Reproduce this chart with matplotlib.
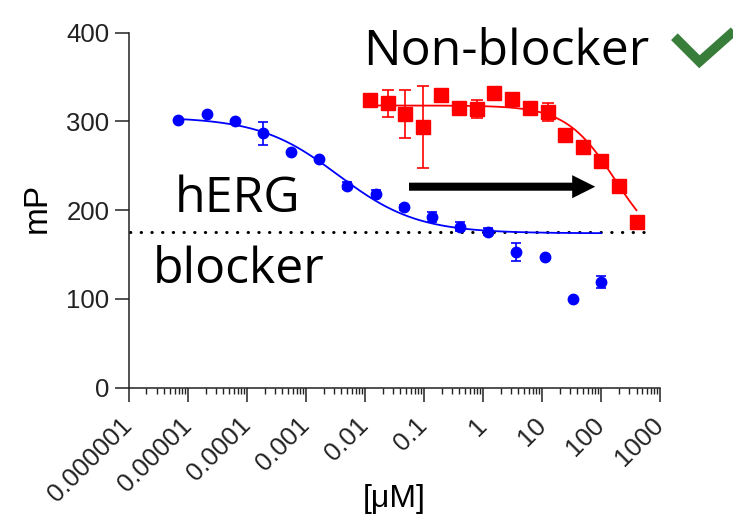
import numpy as np
import matplotlib.pyplot as plt
from matplotlib.patches import FancyArrowPatch
from matplotlib.ticker import LogLocator, NullFormatter

# hERG blocker (blue), 3-fold dilution from 100 uM
blue_conc = [6.97e-6, 2.09e-5, 6.27e-5, 1.88e-4, 5.6e-4, 1.69e-3, 5.08e-3, 0.0152,
             0.0457, 0.137, 0.41, 1.23, 3.7, 11.1, 33.3, 100]
blue_mp = [301.6, 308.4, 300.9, 286.6, 265.9, 257.7, 227.6, 218.6,
           203.3, 192.0, 181.2, 175.8, 152.6, 147.0, 100.3, 118.8]
blue_err = [0, 0, 0, 13, 0, 0, 4, 4, 3, 5.5, 5, 4, 10, 0, 0, 7]

# non-blocker (red), 2-fold dilution from 400 uM
red_conc = [0.0122, 0.0244, 0.0488, 0.0977, 0.195, 0.39, 0.78, 1.5625,
            3.125, 6.25, 12.5, 25, 50, 100, 200, 400]
red_mp = [324.0, 320.5, 308.0, 294.0, 329.8, 314.8, 314.0, 331.7,
          325.0, 315.5, 311.0, 284.7, 270.9, 255.8, 227.3, 187.0]
red_err = [0, 15, 27, 46, 0, 0, 10, 0, 0, 0, 10, 0, 0, 0, 0, 0]

# fitted curves (top, bottom, logIC50, hill)
blue_fit = (305, 174, -2.45, 0.65)
red_fit = (318, 150, np.log10(175), 1.04)

threshold = 176
xtick_vals = [1e-6, 1e-5, 1e-4, 1e-3, 1e-2, 1e-1, 1, 10, 100, 1000]
xtick_labels = ["0.000001", "0.00001", "0.0001", "0.001", "0.01", "0.1", "1", "10", "100", "1000"]


def hill(x, top, bottom, logic50, h):
    return bottom + (top - bottom) / (1 + 10 ** ((np.log10(x) - logic50) * h))


plt.rcParams['font.family'] = ['Liberation Sans', 'DejaVu Sans']

fig = plt.figure(figsize=(7.33, 5.16), dpi=100)
ax = fig.add_axes([0.1756, 0.2486, 0.7248, 0.688])

# threshold line
ax.hlines(threshold, 1.05e-6, 680, colors='black', lw=2.2,
          linestyles=(0, (0.1, 3.4)), capstyle='round', zorder=1)

xb = np.logspace(np.log10(blue_conc[0]), np.log10(blue_conc[-1]), 300)
ax.plot(xb, hill(xb, *blue_fit), color='#0000ff', lw=1.3, zorder=2)
xr = np.logspace(np.log10(red_conc[0]), np.log10(red_conc[-1]), 300)
ax.plot(xr, hill(xr, *red_fit), color='#ff0000', lw=1.3, zorder=2)

ax.errorbar(blue_conc, blue_mp, yerr=blue_err, fmt='o', color='#0000ff', ms=7.5,
            elinewidth=1.2, capsize=3.6, capthick=1.2, zorder=3)
ax.errorbar(red_conc, red_mp, yerr=red_err, fmt='s', color='#ff0000', ms=10,
            elinewidth=1.2, capsize=4, capthick=1.2, zorder=3)

# arrow
arr = FancyArrowPatch((0.056, 226.5), (80, 226.5),
                      arrowstyle='simple,head_length=1.66,head_width=1.66,tail_width=0.58',
                      mutation_scale=10, color='black', lw=0, shrinkA=0, shrinkB=0, zorder=4)
ax.add_patch(arr)

txt_font = ['Open Sans', 'DejaVu Sans']
ax.text(0.00951, 363.6, "Non-blocker", fontsize=36, family=txt_font, va='baseline', ha='left')
ax.text(6.08e-6, 198.3, "hERG", fontsize=36, family=txt_font, va='baseline', ha='left')
ax.text(2.55e-6, 117.6, "blocker", fontsize=36, family=txt_font, va='baseline', ha='left')

# check mark
ax.plot([1754, 4656, 33650], [395.5, 367.3, 418.1], color='#387d3a', lw=6.8,
        solid_joinstyle='miter', solid_capstyle='butt', clip_on=False)

ax.set_xscale('log')
ax.set_xlim(1e-6, 1000)
ax.set_ylim(0, 400)
ax.set_yticks([0, 100, 200, 300, 400])
ax.set_xticks(xtick_vals)
ax.set_xticklabels(xtick_labels, rotation=45, ha='right', va='center', rotation_mode='anchor')
ax.xaxis.set_minor_locator(LogLocator(base=10, subs=np.arange(2, 10), numticks=100))
ax.xaxis.set_minor_formatter(NullFormatter())

for s in ['top', 'right']:
    ax.spines[s].set_visible(False)
for s in ['left', 'bottom']:
    ax.spines[s].set_linewidth(1.1)
    ax.spines[s].set_color('#222222')
ax.tick_params(axis='both', which='major', length=10, width=1.1, labelsize=18.5, colors='#222222')
ax.tick_params(axis='x', which='minor', length=4.5, width=1.0, colors='#222222')
ax.tick_params(axis='y', pad=4)
ax.tick_params(axis='x', pad=14.4)

ax.set_ylabel("mP", fontsize=24)
ax.yaxis.label.set_va('center')
ax.yaxis.set_label_coords(-0.1726, 0.506)
ax.set_xlabel("[μM]", fontsize=23)
ax.xaxis.set_label_coords(0.5, -0.272)

fig.savefig("out.png", dpi=100)
